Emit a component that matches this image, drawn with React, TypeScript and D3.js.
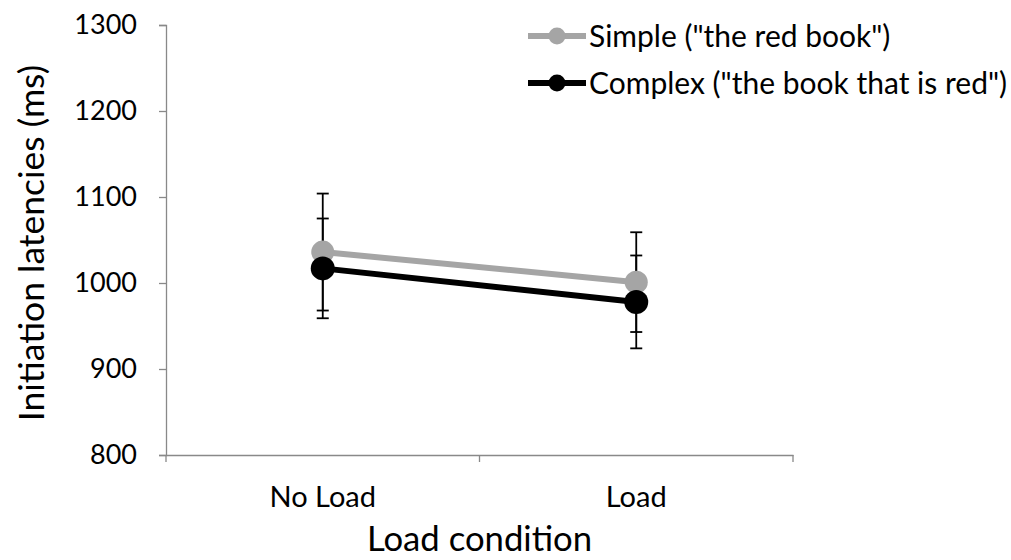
import * as d3 from "d3";
import { useRef, useEffect } from "react";

const categories = ["No Load", "Load"];
const seriesNames = ['Simple ("the red book")', 'Complex ("the book that is red")'];
const simpleMeans = [1036, 1001];
const simpleErrors = [68, 58];
const complexMeans = [1017, 978];
const complexErrors = [58, 54];
const yTicks = [800, 900, 1000, 1100, 1200, 1300];
const seriesColors = ["#a5a5a5", "#000000"];

const FONT = "Lato, 'Open Sans', sans-serif";

const App = () => {
  const ref = useRef<SVGSVGElement | null>(null);

  useEffect(() => {
    const svg = d3.select(ref.current);
    svg.selectAll("*").remove();

    const left = 166, right = 793, top = 25, bottom = 455;

    const x = d3.scaleBand().domain(categories).range([left, right]).padding(0);
    const y = d3.scaleLinear().domain([800, 1300]).range([bottom, top]);
    const cx = (c: string) => (x(c) as number) + x.bandwidth() / 2;

    const axisColor = "#898989";

    // y axis
    const ya = svg.append("g").attr("transform", `translate(${left},0)`)
      .call(d3.axisLeft(y).tickValues(yTicks).tickSize(7).tickPadding(22).tickFormat(d3.format("d")));
    ya.select(".domain").attr("stroke", axisColor).attr("stroke-width", 1.3);
    ya.selectAll(".tick line").attr("stroke", axisColor).attr("stroke-width", 1.3);
    ya.selectAll(".tick text").attr("fill", "#000").style("font-family", FONT).style("font-size", "27px");

    // x axis
    const xa = svg.append("g").attr("transform", `translate(0,${bottom})`)
      .call(d3.axisBottom(x).tickSize(0).tickPadding(0));
    xa.select(".domain").attr("stroke", axisColor).attr("stroke-width", 1.3);
    xa.selectAll(".tick text").attr("fill", "#000").attr("y", 52).attr("dy", 0)
      .style("font-family", FONT).style("font-size", "29px");
    const bounds = [left, ...categories.map(c => (x(c) as number) + x.bandwidth())];
    xa.selectAll("line.sep").data(bounds).enter().append("line").attr("class", "sep")
      .attr("x1", d => d).attr("x2", d => d).attr("y1", 0).attr("y2", 7)
      .attr("stroke", axisColor).attr("stroke-width", 1.3);

    // axis titles
    svg.append("text").attr("transform", `translate(44,243) rotate(-90)`)
      .attr("text-anchor", "middle").style("font-family", FONT).style("font-size", "35.5px")
      .text("Initiation latencies (ms)");
    svg.append("text").attr("x", (left + right) / 2).attr("y", 551)
      .attr("text-anchor", "middle").style("font-family", FONT).style("font-size", "34.7px")
      .text("Load condition");

    const series = [
      { name: seriesNames[0], means: simpleMeans, errs: simpleErrors, color: seriesColors[0], r: 11.5 },
      { name: seriesNames[1], means: complexMeans, errs: complexErrors, color: seriesColors[1], r: 12 },
    ];

    // error bars
    series.forEach(s => {
      categories.forEach((c, i) => {
        const g = svg.append("g");
        const hi = y(s.means[i] + s.errs[i]);
        const lo = y(s.means[i] - s.errs[i]);
        g.append("line").attr("x1", cx(c)).attr("x2", cx(c)).attr("y1", hi).attr("y2", lo)
          .attr("stroke", "#000").attr("stroke-width", 1.8);
        [hi, lo].forEach(v => g.append("line").attr("x1", cx(c) - 6).attr("x2", cx(c) + 6)
          .attr("y1", v).attr("y2", v).attr("stroke", "#000").attr("stroke-width", 1.8));
      });
    });

    const line = d3.line<number>().x((_, i) => cx(categories[i])).y(d => y(d));
    series.forEach(s => {
      svg.append("path").datum(s.means).attr("d", line).attr("fill", "none")
        .attr("stroke", s.color).attr("stroke-width", 6);
      svg.selectAll(null).data(s.means).enter().append("circle")
        .attr("cx", (_, i) => cx(categories[i])).attr("cy", d => y(d)).attr("r", s.r)
        .attr("fill", s.color);
    });

    // legend
    series.forEach((s, i) => {
      const ly = 36 + i * 47;
      const g = svg.append("g");
      g.append("line").attr("x1", 528).attr("x2", 586).attr("y1", ly).attr("y2", ly)
        .attr("stroke", s.color).attr("stroke-width", 6);
      g.append("circle").attr("cx", 557).attr("cy", ly).attr("r", 8.5).attr("fill", s.color);
      g.append("text").attr("x", 589).attr("y", ly).attr("dy", "0.35em")
        .style("font-family", FONT).style("font-size", "30px").text(s.name);
    });
  }, []);

  return <svg ref={ref} width={1011} height={560} style={{ position: "absolute", left: 0, top: 0, background: "#fff" }} />;
};

export default App;
